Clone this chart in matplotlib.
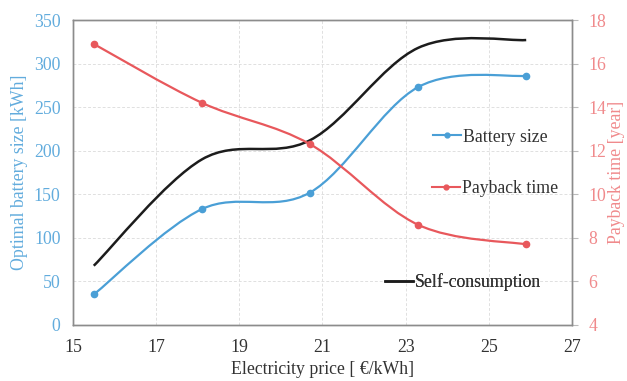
import matplotlib
matplotlib.use("Agg")
import matplotlib.pyplot as plt
from matplotlib.path import Path
from matplotlib.patches import PathPatch
from matplotlib.lines import Line2D
import numpy as np

plt.rcParams['font.family'] = ['Liberation Serif', 'DejaVu Serif']

price = [15.5, 18.1, 20.7, 23.3, 25.9]
battery_size = [35, 133, 152, 273, 286]
payback_time = [16.9, 14.2, 12.3, 8.6, 7.7]
self_consumption = [68, 190, 212, 318, 327]

x_ticks = [15, 17, 19, 21, 23, 25, 27]
left_ticks = [0, 50, 100, 150, 200, 250, 300, 350]
right_ticks = [4, 6, 8, 10, 12, 14, 16, 18]

BLUE = '#4A9FD6'
RED = '#E8585C'
BLUE_T = '#62ACDD'
RED_T = '#F08A8C'
BLACK = '#1c1c1c'
FS = 12.8


def smooth_path(xs, ys):
    pts = np.column_stack([xs, ys]).astype(float)
    n = len(pts)
    verts = [pts[0]]
    codes = [Path.MOVETO]
    for i in range(n - 1):
        p0 = pts[i - 1] if i > 0 else pts[i]
        p1 = pts[i]
        p2 = pts[i + 1]
        p3 = pts[i + 2] if i + 2 < n else pts[i + 1]
        c1 = p1 + (p2 - p0) / 6.0
        c2 = p2 - (p3 - p1) / 6.0
        verts += [c1, c2, p2]
        codes += [Path.CURVE4] * 3
    return Path(verts, codes)


fig = plt.figure(figsize=(6.27, 3.81), dpi=100)
ax = fig.add_axes([0.1164, 0.147, 0.7958, 0.8005])
ax2 = ax.twinx()

ax.set_xlim(15, 27)
ax.set_ylim(0, 350)
ax2.set_ylim(4, 18)
ax.set_xticks(x_ticks)
ax.set_yticks(left_ticks)
ax2.set_yticks(right_ticks)

ax.grid(True, color='#e0e0e0', linestyle=(0, (3, 2)), linewidth=0.7)
ax.set_axisbelow(True)

ax.add_patch(PathPatch(smooth_path(price, self_consumption), fill=False,
                       edgecolor=BLACK, lw=1.8, zorder=3))
ax.add_patch(PathPatch(smooth_path(price, battery_size), fill=False,
                       edgecolor=BLUE, lw=1.6, zorder=3))
ax.plot(price, battery_size, 'o', color=BLUE, ms=4.5, zorder=4)
ax2.add_patch(PathPatch(smooth_path(price, payback_time), fill=False,
                        edgecolor=RED, lw=1.6, zorder=3))
ax2.plot(price, payback_time, 'o', color=RED, ms=4.5, zorder=4)

for a in (ax, ax2):
    for s in a.spines.values():
        s.set_color('#8c8c8c')
        s.set_linewidth(1.0)

ax.tick_params(axis='x', colors='#8c8c8c', labelcolor='#333333', labelsize=FS,
               direction='in', length=0, pad=10)
ax.tick_params(axis='y', colors='#8c8c8c', labelcolor=BLUE_T, labelsize=FS,
               direction='out', length=0, pad=9)
ax2.tick_params(axis='y', colors='#bbbbbb', labelcolor=RED_T, labelsize=FS,
                direction='out', length=4, pad=8)

ax.set_xlabel('Electricity price [ €/kWh]', fontsize=FS, color='#333333', labelpad=4)
ax.set_ylabel('Optimal battery size [kWh]', fontsize=FS, color=BLUE_T, labelpad=4)
ax2.set_ylabel('Payback time [year]', fontsize=FS, color=RED_T, labelpad=1)

entries = [
    (Line2D([], [], color=BLUE, lw=1.5, marker='o', ms=3.5), 'Battery size', (0.721, 0.616)),
    (Line2D([], [], color=RED, lw=1.5, marker='o', ms=3.5), 'Payback time', (0.719, 0.446)),
    (Line2D([], [], color=BLACK, lw=1.8), 'Self-consumption', (0.625, 0.141)),
]
for h, lab, (bx, by) in entries:
    leg = ax2.legend([h], [lab], loc='center left', bbox_to_anchor=(bx, by),
                     frameon=False, fontsize=FS, handlelength=1.6,
                     handletextpad=0.1, borderpad=0, borderaxespad=0)
    for t in leg.get_texts():
        t.set_color('#333333')
    ax2.add_artist(leg)

fig.savefig('out.png', dpi=100)
